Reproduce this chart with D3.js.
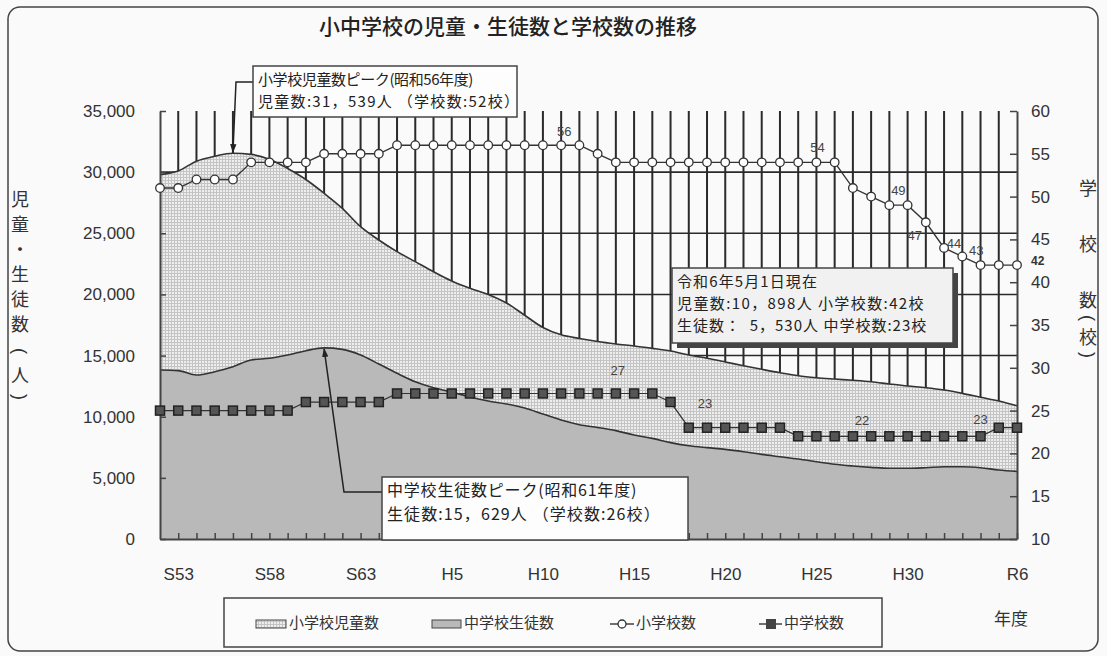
<!DOCTYPE html>
<html>
<head>
<meta charset="utf-8">
<script src="https://cdn.jsdelivr.net/npm/d3@7"></script>
<style>
  body { margin: 0; background: #fafafa; }
  text { font-family: "Liberation Sans", Arial, sans-serif; fill: #333; }
  .jp { font-family: "Noto Sans CJK JP", sans-serif; }
</style>
</head>
<body>
<div id="chart"></div>
<script>
// 年度 (S52 .. R6)
const years = ["S52","S53","S54","S55","S56","S57","S58","S59","S60","S61","S62","S63",
  "H1","H2","H3","H4","H5","H6","H7","H8","H9","H10","H11","H12","H13","H14","H15","H16",
  "H17","H18","H19","H20","H21","H22","H23","H24","H25","H26","H27","H28","H29","H30",
  "R1","R2","R3","R4","R5","R6"];
const xTickLabels = ["S53","S58","S63","H5","H10","H15","H20","H25","H30","R6"];

// 小学校児童数 (人)
const elemPupils = [29800,30100,30900,31300,31539,31450,31050,30300,29400,28270,27040,25540,
  24450,23500,22680,21860,21100,20500,20000,19300,18300,17300,16700,16400,16150,15950,15780,
  15590,15370,15050,14780,14480,14170,13880,13600,13350,13190,13080,12980,12860,12680,12510,
  12370,12180,11910,11590,11290,10898];
// 中学校生徒数 (人)
const juniorStudents = [13820,13770,13410,13680,14090,14640,14780,15050,15400,15629,15510,15050,
  14310,13550,12860,12370,12020,11610,11290,11040,10710,10220,9730,9350,9120,8860,8500,8230,
  7880,7630,7470,7330,7140,6920,6730,6540,6320,6110,5970,5860,5780,5780,5830,5910,5910,5830,
  5640,5530];
// 小学校数 (校)
const elemSchools = [51,51,52,52,52,54,54,54,54,55,55,55,55,56,56,56,56,56,56,56,56,56,56,56,
  55,54,54,54,54,54,54,54,54,54,54,54,54,54,51,50,49,49,47,44,43,42,42,42];
// 中学校数 (校)
const juniorSchools = [25,25,25,25,25,25,25,25,26,26,26,26,26,27,27,27,27,27,27,27,27,27,27,27,
  27,27,27,27,26,23,23,23,23,23,23,22,22,22,22,22,22,22,22,22,22,22,23,23];

const leftTicks = [0,5000,10000,15000,20000,25000,30000,35000];
const rightTicks = [10,15,20,25,30,35,40,45,50,55,60];
const seriesNames = ["小学校児童数","中学校生徒数","小学校数","中学校数"];

// labels written on the chart: [series, index, text, dx, dy]
const pointLabels = [
  ["e",22,"56",3,-13],["e",36,"54",1,-14],["e",40,"49",9,-14],["e",42,"47",-11,14],
  ["e",43,"44",10,-3],["e",44,"43",14,-5],
  ["j",25,"27",2,-22],["j",30,"23",-2,-23],["j",38,"22",9,-15],["j",45,"23",0,-16]
];

const W = 1107, H = 656;
const pL = 160, pR = 1017, pT = 111, pB = 539;

const svg = d3.select("#chart").append("svg")
  .attr("width", W).attr("height", H)
  .style("background", "#fafafa");

// patterns
const defs = svg.append("defs");
const pat = defs.append("pattern").attr("id", "grid").attr("patternUnits", "userSpaceOnUse")
  .attr("width", 3).attr("height", 3);
pat.append("rect").attr("width", 3).attr("height", 3).attr("fill", "#eeeeee");
pat.append("path").attr("d", "M0,0.5H3M0.5,0V3").attr("stroke", "#c4c4c4").attr("stroke-width", 1);

defs.append("marker").attr("id", "arr").attr("viewBox", "0 0 10 10")
  .attr("refX", 9).attr("refY", 5).attr("markerWidth", 9).attr("markerHeight", 9)
  .attr("orient", "auto").attr("markerUnits", "userSpaceOnUse")
  .append("path").attr("d", "M0,1.5L10,5L0,8.5z").attr("fill", "#222");

// outer frame
svg.append("rect").attr("x", 8).attr("y", 7).attr("width", 1090).attr("height", 644)
  .attr("rx", 12).attr("fill", "none").attr("stroke", "#444").attr("stroke-width", 1.5);

svg.append("text").attr("class", "jp").attr("x", 508).attr("y", 28)
  .attr("text-anchor", "middle").attr("dominant-baseline", "middle")
  .style("font-size", "21px").style("font-weight", "500").style("fill", "#222")
  .text("小中学校の児童・生徒数と学校数の推移");

// scales
const x = d3.scalePoint().domain(years).range([pL, pR]);
const yL = d3.scaleLinear().domain([0, 35000]).range([pB, pT]);
const yR = d3.scaleLinear().domain([10, 60]).range([pB, pT]);

// grid
const g = svg.append("g");
g.selectAll(".vg").data(years.slice(1, -1)).enter().append("line")
  .attr("x1", d => x(d)).attr("x2", d => x(d)).attr("y1", pT).attr("y2", pB)
  .attr("stroke", "#2a2a2a").attr("stroke-width", 2);
g.selectAll(".hg").data(leftTicks.slice(1, -1)).enter().append("line")
  .attr("x1", pL).attr("x2", pR).attr("y1", d => yL(d)).attr("y2", d => yL(d))
  .attr("stroke", "#2a2a2a").attr("stroke-width", 1.6);

// areas
const idx = d3.range(years.length);
const areaE = d3.area().x(i => x(years[i])).y0(pB).y1(i => yL(elemPupils[i])).curve(d3.curveMonotoneX);
const areaJ = d3.area().x(i => x(years[i])).y0(pB).y1(i => yL(juniorStudents[i])).curve(d3.curveMonotoneX);
g.append("path").datum(idx).attr("d", areaE).attr("fill", "url(#grid)");
g.append("path").datum(idx).attr("d", areaE.lineY1()).attr("fill", "none")
  .attr("stroke", "#333").attr("stroke-width", 1.6);
g.append("path").datum(idx).attr("d", areaJ).attr("fill", "#b9b9b9");
g.append("path").datum(idx).attr("d", areaJ.lineY1()).attr("fill", "none")
  .attr("stroke", "#333").attr("stroke-width", 1.6);

// axes
function styleAxis(sel) {
  sel.select(".domain").attr("stroke", "#444").attr("stroke-width", 2);
  sel.selectAll(".tick line").attr("stroke", "#444").attr("stroke-width", 1.5);
  sel.selectAll(".tick text").style("font-size", "17px").style("fill", "#333")
    .style("font-family", "'Liberation Sans', Arial, sans-serif");
}
svg.append("g").attr("transform", `translate(0,${pB})`)
  .call(d3.axisBottom(x).tickValues(years.slice(1)).tickSizeInner(-6).tickSizeOuter(0)
    .tickPadding(29).tickFormat(d => xTickLabels.includes(d) ? d : ""))
  .call(styleAxis);
svg.append("g").attr("transform", `translate(${pL},0)`)
  .call(d3.axisLeft(yL).tickValues(leftTicks).tickSizeInner(-6).tickSizeOuter(0)
    .tickPadding(25).tickFormat(d3.format(",")))
  .call(styleAxis);
svg.append("g").attr("transform", `translate(${pR},0)`)
  .call(d3.axisRight(yR).tickValues(rightTicks).tickSizeInner(-7).tickSizeOuter(0)
    .tickPadding(14))
  .call(styleAxis);

// school count lines
const lineE = d3.line().x((d, i) => x(years[i])).y(d => yR(d));
svg.append("path").datum(elemSchools).attr("d", lineE).attr("fill", "none")
  .attr("stroke", "#333").attr("stroke-width", 1.4);
svg.selectAll(".ce").data(elemSchools).enter().append("circle")
  .attr("cx", (d, i) => x(years[i])).attr("cy", d => yR(d)).attr("r", 4.3)
  .attr("fill", "#fff").attr("stroke", "#333").attr("stroke-width", 1.3);

svg.append("path").datum(juniorSchools).attr("d", lineE).attr("fill", "none")
  .attr("stroke", "#333").attr("stroke-width", 1.2);
svg.selectAll(".sj").data(juniorSchools).enter().append("rect")
  .attr("x", (d, i) => x(years[i]) - 4.5).attr("y", d => yR(d) - 4.5)
  .attr("width", 9).attr("height", 9)
  .attr("fill", "#555").attr("stroke", "#222").attr("stroke-width", 1.5);

// point labels
svg.selectAll(".pl").data(pointLabels).enter().append("text")
  .attr("x", d => x(years[d[1]]) + d[3])
  .attr("y", d => yR((d[0] === "e" ? elemSchools : juniorSchools)[d[1]]) + d[4])
  .attr("text-anchor", "middle").attr("dominant-baseline", "middle")
  .style("font-size", "13px").style("fill", "#444").text(d => d[2]);
svg.append("text").attr("x", x(years[47]) + 14).attr("y", yR(elemSchools[47]) - 3)
  .attr("dominant-baseline", "middle").style("font-size", "12px").style("font-weight", "bold")
  .style("fill", "#333").text(elemSchools[47]);

// axis titles (vertical, one glyph per row; brackets turned by 90deg)
function vchar(cx, cy, ch, rot) {
  const t = svg.append("text").attr("x", cx).attr("y", cy)
    .attr("text-anchor", "middle").attr("dominant-baseline", "central")
    .style("font-size", "18px").text(ch);
  if (rot) t.style("font-family", "'Liberation Sans', Arial, sans-serif")
    .attr("transform", `rotate(90,${cx},${cy})`);
  else t.attr("class", "jp");
}
[["児",198],["童",223],["・",248],["生",273],["徒",298],["数",323]].forEach(d => vchar(20, d[1], d[0], false));
vchar(20, 351, "(", true);
vchar(20, 374, "人", false);
vchar(20, 397, ")", true);
[["学",187],["校",243],["数",299]].forEach(d => vchar(1088, d[1], d[0], false));
vchar(1088, 318, "(", true);
vchar(1088, 336, "校", false);
vchar(1088, 355, ")", true);

svg.append("text").attr("class", "jp").attr("x", 1011).attr("y", 620)
  .attr("text-anchor", "middle").attr("dominant-baseline", "middle")
  .style("font-size", "17px").text("年度");

// annotation boxes: lines are [text, letter-spacing]
function box(x0, y0, w, h, lines, fs, lh, base, fill) {
  svg.append("rect").attr("x", x0).attr("y", y0).attr("width", w).attr("height", h)
    .attr("fill", fill).attr("stroke", "#444").attr("stroke-width", 1.5);
  lines.forEach((s, i) => {
    svg.append("text").attr("class", "jp").attr("x", x0 + 5).attr("y", y0 + base + i * lh)
      .style("font-size", fs + "px").style("letter-spacing", s[1] + "px")
      .style("white-space", "pre").style("fill", "#222").text(s[0]);
  });
}
const pk1 = 4, pk2 = 9;
svg.append("path").attr("fill", "none").attr("stroke", "#222").attr("stroke-width", 1.5)
  .attr("marker-end", "url(#arr)")
  .attr("d", `M253,82H236L${x(years[pk1])},${yL(elemPupils[pk1]) - 1}`);
box(253, 66, 264, 51, [["小学校児童数ピーク(昭和56年度)", -0.4], ["児童数:31，539人 （学校数:52校）", 1.3]],
  15, 22, 19, "#fdfdfd");

svg.append("path").attr("fill", "none").attr("stroke", "#222").attr("stroke-width", 1.5)
  .attr("marker-end", "url(#arr)")
  .attr("d", `M382,492H344L${x(years[pk2])},${yL(juniorStudents[pk2]) + 1}`);
box(382, 477, 306, 63, [["中学校生徒数ピーク(昭和61年度)", 0.8], ["生徒数:15，629人 （学校数:26校）", 1.1]],
  16, 23.5, 19, "#fdfdfd");

svg.append("rect").attr("x", 677).attr("y", 273).attr("width", 281).attr("height", 75).attr("fill", "#444");
box(672, 268, 281, 75, [["令和6年5月1日現在", 1.1], ["児童数:10，898人 小学校数:42校", 1.4],
  ["生徒数：  5，530人 中学校数:23校", 1.0]], 15, 22, 19, "#f1f1f1");

// legend
svg.append("rect").attr("x", 224).attr("y", 598).attr("width", 658).attr("height", 49)
  .attr("fill", "#fbfbfb").attr("stroke", "#444").attr("stroke-width", 1.5);
const lg = svg.append("g");
lg.append("rect").attr("x", 256).attr("y", 620).attr("width", 30).attr("height", 8)
  .attr("fill", "url(#grid)").attr("stroke", "#444");
lg.append("rect").attr("x", 432).attr("y", 620).attr("width", 29).attr("height", 8)
  .attr("fill", "#b9b9b9").attr("stroke", "#444");
lg.append("line").attr("x1", 610).attr("x2", 634).attr("y1", 624).attr("y2", 624).attr("stroke", "#333").attr("stroke-width", 1.4);
lg.append("circle").attr("cx", 622).attr("cy", 624).attr("r", 4).attr("fill", "#fff").attr("stroke", "#333").attr("stroke-width", 1.3);
lg.append("line").attr("x1", 759).attr("x2", 782).attr("y1", 624).attr("y2", 624).attr("stroke", "#333").attr("stroke-width", 1.4);
lg.append("rect").attr("x", 766).attr("y", 619).attr("width", 10).attr("height", 10).attr("fill", "#444");
const legX = [289, 464, 636, 784];
lg.selectAll(".lt").data(seriesNames).enter().append("text").attr("class", "jp")
  .attr("x", (d, i) => legX[i]).attr("y", 624).attr("dominant-baseline", "middle")
  .style("font-size", "15px").text(d => d);
</script>
</body>
</html>
